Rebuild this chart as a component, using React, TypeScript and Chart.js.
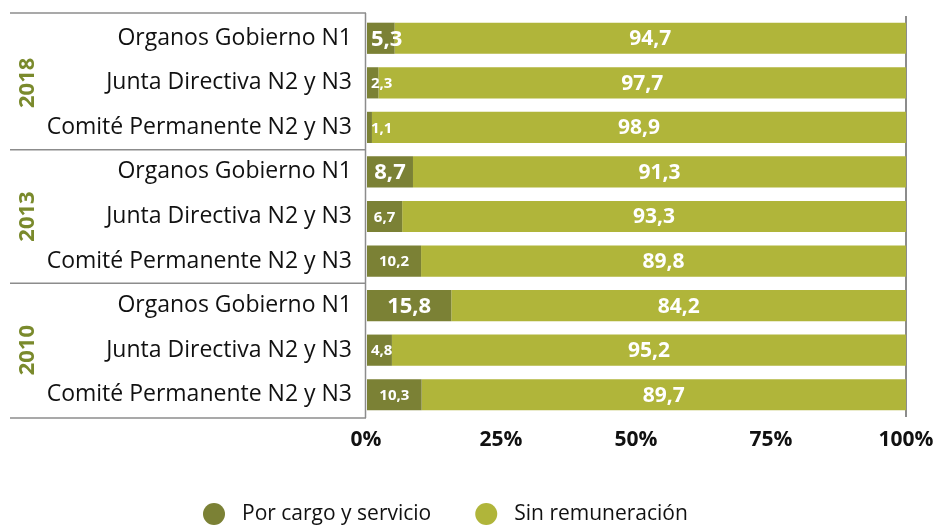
import React, { useEffect, useRef } from "react";
import { Chart, registerables } from "chart.js";

Chart.register(...registerables);

const categories = [
  "Organos Gobierno N1",
  "Junta Directiva N2 y N3",
  "Comité Permanente N2 y N3",
  "Organos Gobierno N1",
  "Junta Directiva N2 y N3",
  "Comité Permanente N2 y N3",
  "Organos Gobierno N1",
  "Junta Directiva N2 y N3",
  "Comité Permanente N2 y N3",
];
const years = ["2018", "2013", "2010"];
const porCargo = [5.3, 2.3, 1.1, 8.7, 6.7, 10.2, 15.8, 4.8, 10.3];
const sinRemuneracion = [94.7, 97.7, 98.9, 91.3, 93.3, 89.8, 84.2, 95.2, 89.7];
const seriesNames = ["Por cargo y servicio", "Sin remuneración"];

const DARK = "#7b8135";
const LIGHT = "#b0b53a";
const YEAR_COLOR = "#7a8a2c";
const LINE = "#8c8c8c";
const FONT = "'Open Sans', 'Noto Sans', sans-serif";

const fmt = (v: number) => v.toFixed(1).replace(".", ",");

const valueLabels = {
  id: "valueLabels",
  afterDatasetsDraw(chart: any) {
    const ctx = chart.ctx;
    ctx.save();
    ctx.fillStyle = "#ffffff";
    ctx.textAlign = "center";
    ctx.textBaseline = "middle";
    chart.data.datasets.forEach((ds: any, di: number) => {
      const meta = chart.getDatasetMeta(di);
      meta.data.forEach((el: any, i: number) => {
        const v = ds.data[i];
        const size = di === 0 ? (i % 3 === 0 ? 22 : 15) : 21;
        ctx.font = `bold ${size}px ${FONT}`;
        const txt = fmt(v);
        const w = ctx.measureText(txt).width;
        let cx = (el.x + el.base) / 2;
        if (di === 0) cx = Math.max(cx, el.base + w / 2 + 4);
        ctx.fillText(txt, cx, el.y + 1);
      });
    });
    ctx.restore();
  },
};

const frame = {
  id: "frame",
  afterDraw(chart: any) {
    const ctx = chart.ctx;
    const area = chart.chartArea;
    const y = chart.scales.y;
    const n = chart.data.labels.length;
    const cat = (area.bottom - area.top) / n;
    ctx.save();
    ctx.strokeStyle = LINE;
    ctx.lineWidth = 1.5;
    // left axis line
    ctx.beginPath();
    ctx.moveTo(area.left - 0.5, area.top - 3);
    ctx.lineTo(area.left - 0.5, area.bottom + 1);
    ctx.stroke();
    // group separators
    for (let g = 0; g <= years.length; g++) {
      let yy = area.top + g * 3 * cat;
      if (g === 0) yy -= 3;
      if (g === years.length) yy += 1;
      ctx.beginPath();
      ctx.moveTo(10, yy);
      ctx.lineTo(area.left, yy);
      ctx.stroke();
    }
    // year labels
    ctx.fillStyle = YEAR_COLOR;
    ctx.font = `bold 22px ${FONT}`;
    ctx.textAlign = "center";
    ctx.textBaseline = "middle";
    years.forEach((yr, g) => {
      const top = y.getPixelForValue(g * 3) - cat / 2;
      const cy = top + (3 * cat) / 2;
      ctx.save();
      ctx.translate(28, cy);
      ctx.rotate(-Math.PI / 2);
      ctx.fillText(yr, 0, 0);
      ctx.restore();
    });
    // legend
    ctx.font = `21px ${FONT}`;
    ctx.textAlign = "left";
    let lx = 203;
    const ly = 514;
    chart.data.datasets.forEach((ds: any) => {
      ctx.fillStyle = ds.backgroundColor;
      ctx.beginPath();
      ctx.arc(lx + 11, ly, 11, 0, Math.PI * 2);
      ctx.fill();
      ctx.fillStyle = "#111111";
      ctx.fillText(ds.label, lx + 39, ly);
      lx += 39 + ctx.measureText(ds.label).width + 44;
    });
    ctx.restore();
  },
};

export default function App() {
  const ref = useRef<HTMLCanvasElement | null>(null);
  useEffect(() => {
    if (!ref.current) return;
    const chart = new Chart(ref.current, {
      type: "bar",
      data: {
        labels: categories,
        datasets: [
          {
            label: seriesNames[0],
            data: porCargo,
            backgroundColor: DARK,
            barPercentage: 0.7,
            categoryPercentage: 1,
          },
          {
            label: seriesNames[1],
            data: sinRemuneracion,
            backgroundColor: LIGHT,
            barPercentage: 0.7,
            categoryPercentage: 1,
          },
        ],
      },
      options: {
        indexAxis: "y",
        responsive: false,
        animation: false,
        layout: { padding: { top: 16, right: 30, bottom: 68, left: 0 } },
        plugins: {
          legend: { display: false },
          tooltip: { enabled: false },
        },
        scales: {
          x: {
            stacked: true,
            min: 0,
            max: 100,
            ticks: {
              stepSize: 25,
              callback: (v: any) => v + "%",
              font: { family: FONT, size: 21, weight: "bold" },
              color: "#111111",
              padding: 10,
              maxRotation: 0,
            },
            grid: {
              drawTicks: false,
              color: (c: any) => (c.tick && c.tick.value === 100 ? LINE : "rgba(0,0,0,0)"),
              lineWidth: 2,
            },
            border: { display: false },
            afterFit: (s: any) => {
              s.height = 40;
              s.paddingLeft = 0;
              s.paddingRight = 0;
              s.paddingTop = 0;
              s.paddingBottom = 0;
            },
          },
          y: {
            stacked: true,
            ticks: {
              font: { family: FONT, size: 23 },
              color: "#111111",
              padding: 14,
            },
            grid: { display: false, drawTicks: false },
            border: { display: false },
            afterFit: (s: any) => {
              s.width = 366;
              s.paddingLeft = 0;
              s.paddingRight = 0;
              s.paddingTop = 0;
              s.paddingBottom = 0;
            },
          },
        },
      } as any,
      plugins: [valueLabels, frame],
    });
    return () => chart.destroy();
  }, []);
  return (
    <div style={{ position: "fixed", left: 0, top: 0, width: 936, height: 525 }}>
      <canvas ref={ref} width={936} height={525} style={{ width: 936, height: 525 }} />
    </div>
  );
}
